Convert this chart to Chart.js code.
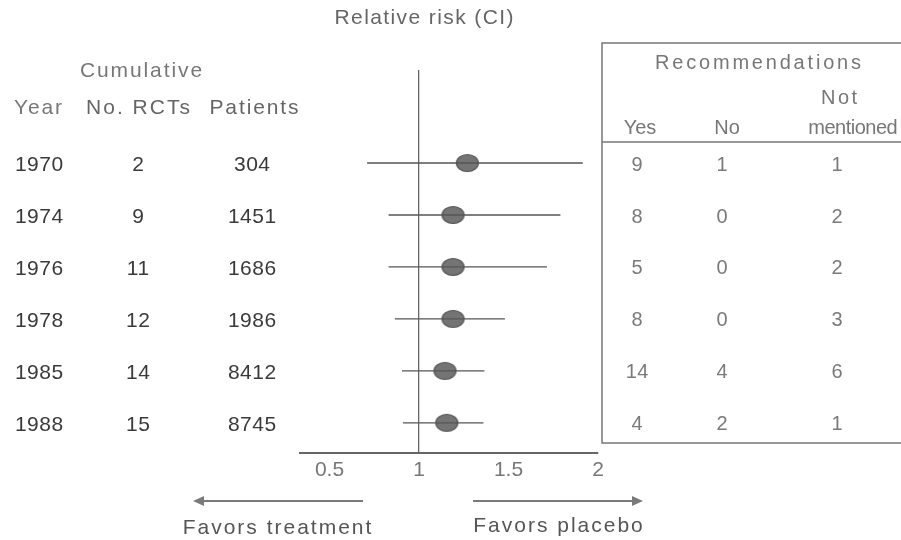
<!DOCTYPE html>
<html>
<head>
<meta charset="utf-8">
<script src="https://cdn.jsdelivr.net/npm/chart.js@4"></script>
<style>
  html, body { margin: 0; padding: 0; background: #fff; }
  #wrap { width: 901px; height: 540px; position: relative; }
</style>
</head>
<body>
<div id="wrap"><canvas id="fCanv"></canvas></div>
<script>
// rows of the cumulative meta-analysis
const years = ["1970", "1974", "1976", "1978", "1985", "1988"];
const numRcts = ["2", "9", "11", "12", "14", "15"];
const patients = ["304", "1451", "1686", "1986", "8412", "8745"];

// relative risk and confidence interval
const rr = [1.27, 1.19, 1.19, 1.19, 1.145, 1.155];
const ciLow = [0.71, 0.83, 0.83, 0.865, 0.905, 0.91];
const ciHigh = [1.915, 1.79, 1.715, 1.48, 1.365, 1.36];
const xTicks = [0.5, 1, 1.5, 2];

// recommendations table
const recYes = ["9", "8", "5", "8", "14", "4"];
const recNo = ["1", "0", "0", "0", "4", "2"];
const recNot = ["1", "2", "2", "3", "6", "1"];

const FAM = '"Liberation Sans", Arial, sans-serif';

// ellipse marker
const dot = document.createElement("canvas");
dot.width = 25; dot.height = 20;
(function () {
  const c = dot.getContext("2d");
  c.beginPath();
  c.ellipse(12.5, 10, 11, 8.5, 0, 0, Math.PI * 2);
  c.fillStyle = "#747474";
  c.fill();
  c.lineWidth = 1.2;
  c.strokeStyle = "#555";
  c.stroke();
})();

const ciData = [];
rr.forEach((v, i) => {
  ciData.push({ x: ciLow[i], y: i }, { x: ciHigh[i], y: i }, { x: ciHigh[i], y: null });
});

function txt(ctx, s, x, y, size, spacing, color) {
  ctx.font = size + "px " + FAM;
  ctx.letterSpacing = spacing + "px";
  ctx.fillStyle = color;
  // letterSpacing adds trailing space, shift to keep centre
  ctx.fillText(s, x + spacing / 2, y);
}

const tablesPlugin = {
  id: "tables",
  afterDraw(chart) {
    const { ctx, scales: { y } } = chart;
    ctx.save();
    ctx.textAlign = "center";
    ctx.textBaseline = "middle";

    // title
    txt(ctx, "Relative risk (CI)", 424, 18, 21, 1.4, "#666");

    // left headers
    txt(ctx, "Cumulative", 141, 71, 21, 1.9, "#777");
    txt(ctx, "Year", 38, 108, 21, 1.9, "#777");
    txt(ctx, "No. RCTs", 138, 108, 21, 2, "#666");
    txt(ctx, "Patients", 254, 108, 21, 1.9, "#666");

    // right box
    ctx.strokeStyle = "#777";
    ctx.lineWidth = 1.5;
    ctx.beginPath();
    ctx.moveTo(910, 43); ctx.lineTo(602, 43); ctx.lineTo(602, 443); ctx.lineTo(910, 443);
    ctx.moveTo(602, 142); ctx.lineTo(910, 142);
    ctx.stroke();

    txt(ctx, "Recommendations", 758, 63, 20, 2.8, "#777");
    txt(ctx, "Not", 839, 98, 20, 2.5, "#777");
    txt(ctx, "Yes", 640, 128, 20, 0, "#777");
    txt(ctx, "No", 727, 128, 20, 0, "#777");
    txt(ctx, "mentioned", 853, 128, 20, -0.5, "#777");

    years.forEach((yr, i) => {
      const py = y.getPixelForValue(i) + 2;
      txt(ctx, yr, 39, py, 21, 0.5, "#3a3a3a");
      txt(ctx, numRcts[i], 138, py, 21, 0.5, "#3a3a3a");
      txt(ctx, patients[i], 252, py, 21, 0.5, "#3a3a3a");
      txt(ctx, recYes[i], 637, py, 20, 0.5, "#7a7a7a");
      txt(ctx, recNo[i], 722, py, 20, 0.5, "#7a7a7a");
      txt(ctx, recNot[i], 837, py, 20, 0.5, "#7a7a7a");
    });

    // arrows
    ctx.strokeStyle = "#7a7a7a";
    ctx.fillStyle = "#7a7a7a";
    ctx.lineWidth = 2;
    ctx.beginPath();
    ctx.moveTo(363, 501); ctx.lineTo(200, 501);
    ctx.moveTo(473, 501); ctx.lineTo(636, 501);
    ctx.stroke();
    ctx.beginPath();
    ctx.moveTo(193, 501); ctx.lineTo(204, 496); ctx.lineTo(204, 506); ctx.closePath();
    ctx.moveTo(643, 501); ctx.lineTo(632, 496); ctx.lineTo(632, 506); ctx.closePath();
    ctx.fill();

    txt(ctx, "Favors treatment", 277, 528, 21, 2, "#555");
    txt(ctx, "Favors placebo", 558, 526, 21, 2, "#555");
    ctx.restore();
  }
};

new Chart(document.getElementById("fCanv"), {
  type: "scatter",
  data: {
    datasets: [
      {
        type: "line",
        data: ciData,
        borderColor: "#555",
        borderWidth: 1.3,
        pointRadius: 0,
        spanGaps: false,
        fill: false
      },
      {
        data: rr.map((v, i) => ({ x: v, y: i })),
        pointStyle: dot,
        pointRadius: 10,
        clip: false
      }
    ]
  },
  options: {
    responsive: true,
    maintainAspectRatio: false,
    animation: false,
    layout: { padding: { left: 300, right: 303, top: 70, bottom: 57 } },
    plugins: { legend: { display: false }, tooltip: { enabled: false } },
    scales: {
      x: {
        type: "linear",
        min: 0.335,
        max: 2,
        afterBuildTicks: s => { s.ticks = xTicks.map(v => ({ value: v })); },
        afterFit: s => { s.height = 30; },
        grid: {
          drawTicks: false,
          lineWidth: 1.3,
          color: c => (c.tick && c.tick.value === 1 ? "#666" : "rgba(0,0,0,0)")
        },
        border: { display: true, color: "#666", width: 2 },
        ticks: {
          padding: 5,
          color: "#777",
          font: { family: FAM, size: 21 },
          callback: v => String(v)
        }
      },
      y: {
        type: "linear",
        reverse: true,
        min: -1.79,
        max: 5.58,
        display: false
      }
    }
  },
  plugins: [tablesPlugin]
});
</script>
</body>
</html>
